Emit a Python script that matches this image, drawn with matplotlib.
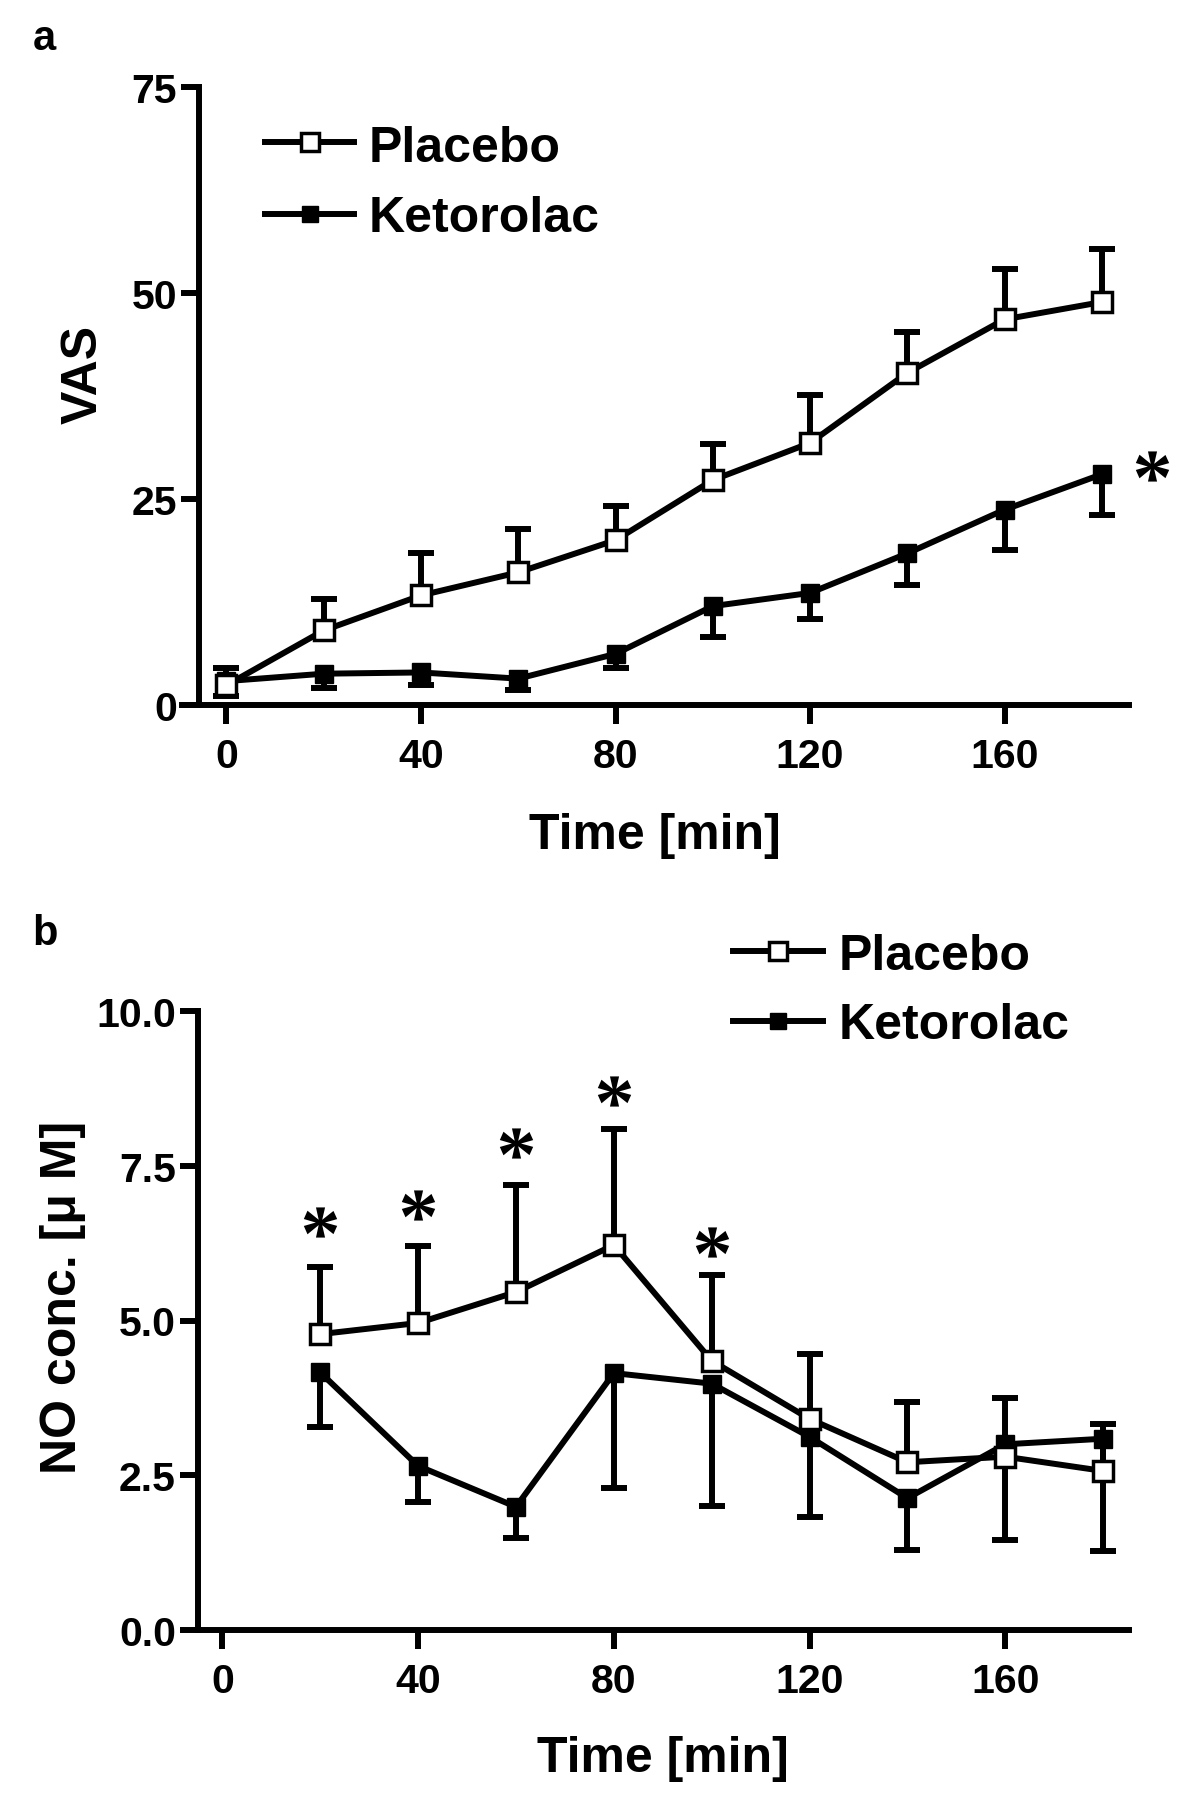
import matplotlib
matplotlib.use('Agg')
import matplotlib.pyplot as plt
from matplotlib.lines import Line2D
from matplotlib.textpath import TextPath
from matplotlib.font_manager import FontProperties
from matplotlib.path import Path
import numpy as np

# ---------------- data ----------------
time_a = [0, 20, 40, 60, 80, 100, 120, 140, 160, 180]
vas_placebo = [2.4, 9.05, 13.3, 16.1, 20.0, 27.3, 31.8, 40.3, 46.8, 48.9]
vas_placebo_err = [2.1, 3.85, 5.2, 5.3, 4.2, 4.4, 5.8, 5.0, 6.1, 6.4]
vas_keto = [2.9, 3.8, 3.95, 3.2, 6.2, 12.0, 13.6, 18.4, 23.7, 28.0]
vas_keto_err = [1.85, 1.7, 1.55, 1.4, 1.7, 3.7, 3.2, 3.8, 4.9, 4.95]
star_a_x = [190.3]
star_a_y = [29.0]

time_b = [20, 40, 60, 80, 100, 120, 140, 160, 180]
no_placebo = [4.78, 4.96, 5.46, 6.22, 4.35, 3.41, 2.71, 2.80, 2.57]
no_placebo_err = [1.08, 1.24, 1.73, 1.88, 1.38, 1.05, 0.97, 0.95, 0.76]
no_keto = [4.16, 2.65, 1.99, 4.15, 3.98, 3.12, 2.13, 3.00, 3.09]
no_keto_err = [0.88, 0.59, 0.50, 1.86, 1.97, 1.30, 0.84, 1.55, 1.82]
star_b_x = [20, 40, 60, 80, 100]
star_b_y = [6.59, 6.87, 7.87, 8.71, 6.27]

x_ticks = [0, 40, 80, 120, 160]
a_yticks = [0, 25, 50, 75]
a_yticklabels = ['0', '25', '50', '75']
b_yticks = [0, 2.5, 5.0, 7.5, 10.0]
b_yticklabels = ['0.0', '2.5', '5.0', '7.5', '10.0']
labels = ['Placebo', 'Ketorolac']

# ---------------- style ----------------
W, H = 1200, 1815
FONT = ['Liberation Sans', 'Arial', 'DejaVu Sans']
plt.rcParams['font.family'] = FONT
plt.rcParams['font.weight'] = 'bold'
LW = 4.3
TICKFS = 29.5
LABELFS = 36
CAP_MS = 18.5
MS_OPEN = 14
MS_FILL = 13

fig = plt.figure(figsize=(W / 100, H / 100), dpi=100)

# asterisk glyph (Times-like, teardrop petals) as a centred marker path
_tp = TextPath((0, 0), '*', size=10,
               prop=FontProperties(family=['Liberation Serif', 'DejaVu Serif'],
                                   weight='bold'))
_codes = np.asarray(_tp.codes)
_v = np.asarray(_tp.vertices, float).copy()
_real = _codes != Path.CLOSEPOLY
_cx = (_v[_real, 0].min() + _v[_real, 0].max()) / 2
_cy = (_v[_real, 1].min() + _v[_real, 1].max()) / 2
_v[:, 0] -= _cx
_v[:, 1] -= _cy
_v[~_real] = 0.0
STAR = Path(_v, _codes)
STAR_MS = 24


def fx(px):
    return px / W


def fy(py):
    return 1 - py / H


def draw_series(ax, t, y, err, up, filled, z):
    t = np.asarray(t, float)
    y = np.asarray(y, float)
    e = np.asarray(err, float)
    end = y + e if up else y - e
    ax.vlines(t, y, end, colors='k', lw=LW, zorder=z, clip_on=False)
    ax.plot(t, end, ls='none', marker='_', ms=CAP_MS, mew=LW, color='k',
            zorder=z, clip_on=False)
    if filled:
        ax.plot(t, y, color='k', lw=LW, marker='s', ms=MS_FILL, mfc='k',
                mec='k', zorder=z + 0.5, clip_on=False)
    else:
        ax.plot(t, y, color='k', lw=LW, marker='s', ms=MS_OPEN, mfc='white',
                mec='k', mew=2.5, zorder=z + 0.5, clip_on=False)


def style_axes(ax, yticks, yticklabels):
    for s in ['top', 'right']:
        ax.spines[s].set_visible(False)
    for s in ['left', 'bottom']:
        ax.spines[s].set_linewidth(LW)
    ax.set_xticks(x_ticks)
    ax.set_xticklabels([str(v) for v in x_ticks], fontsize=TICKFS,
                       fontweight='bold')
    ax.set_yticks(yticks)
    ax.set_yticklabels(yticklabels, fontsize=TICKFS, fontweight='bold')
    ax.tick_params(axis='both', direction='out', width=LW)
    ax.tick_params(axis='y', length=13, pad=3)
    ax.tick_params(axis='x', length=14, pad=9)


def legend(x_line0, x_line1, x_text, rows):
    for (yl, yb, filled, lab) in rows:
        fig.add_artist(Line2D([fx(x_line0), fx(x_line1)], [fy(yl), fy(yl)],
                              transform=fig.transFigure, color='k', lw=LW))
        xm = (x_line0 + x_line1) / 2
        if filled:
            fig.add_artist(Line2D([fx(xm)], [fy(yl)], transform=fig.transFigure,
                                  marker='s', ms=MS_FILL - 1, color='k', ls='none'))
        else:
            fig.add_artist(Line2D([fx(xm)], [fy(yl)], transform=fig.transFigure,
                                  marker='s', ms=MS_OPEN - 1, mfc='white', mec='k',
                                  mew=2.5, ls='none'))
        fig.text(fx(x_text), fy(yb), lab, fontsize=LABELFS, fontweight='bold',
                 ha='left', va='baseline')


# ---------------- panel a ----------------
axa = fig.add_axes([fx(182), fy(706), fx(1129) - fx(182), fy(88) - fy(706)])
axa.set_xlim(-9.15, 185.6)
axa.set_ylim(0, 75)
axa.spines['left'].set_position(('data', -5.65))
style_axes(axa, a_yticks, a_yticklabels)
draw_series(axa, time_a, vas_keto, vas_keto_err, False, True, 3)
draw_series(axa, time_a, vas_placebo, vas_placebo_err, True, False, 5)
axa.plot(star_a_x, star_a_y, ls='none', marker=STAR, ms=STAR_MS, mfc='k',
         mec='none', mew=0, clip_on=False, zorder=6)
legend(265, 354, 369, [(143, 162, False, labels[0]), (215, 232, True, labels[1])])
fig.text(fx(655), fy(836), 'Time [min]', fontsize=LABELFS, fontweight='bold',
         ha='center', va='center')
fig.text(fx(84), fy(374), 'VAS', fontsize=LABELFS, fontweight='bold',
         ha='center', va='center', rotation=90)
fig.text(fx(44), fy(50), 'a', fontsize=30, fontweight='bold', ha='center',
         va='baseline')

# ---------------- panel b ----------------
axb = fig.add_axes([fx(198), fy(1631), fx(1129) - fx(198), fy(1012) - fy(1631)])
axb.set_xlim(-5.0, 185.3)
axb.set_ylim(0, 10)
style_axes(axb, b_yticks, b_yticklabels)
draw_series(axb, time_b, no_keto, no_keto_err, False, True, 3)
draw_series(axb, time_b, no_placebo, no_placebo_err, True, False, 5)
axb.plot(star_b_x, star_b_y, ls='none', marker=STAR, ms=STAR_MS, mfc='k',
         mec='none', mew=0, clip_on=False, zorder=6)
legend(733, 823, 839, [(952, 970, False, labels[0]), (1022, 1039, True, labels[1])])
fig.text(fx(663), fy(1759), 'Time [min]', fontsize=LABELFS, fontweight='bold',
         ha='center', va='center')
fig.text(fx(63), fy(1297), 'NO conc. [μ M]', fontsize=LABELFS, fontweight='bold',
         ha='center', va='center', rotation=90)
fig.text(fx(45), fy(945), 'b', fontsize=30, fontweight='bold', ha='center',
         va='baseline')

fig.savefig('out.png', dpi=100, facecolor='white')
